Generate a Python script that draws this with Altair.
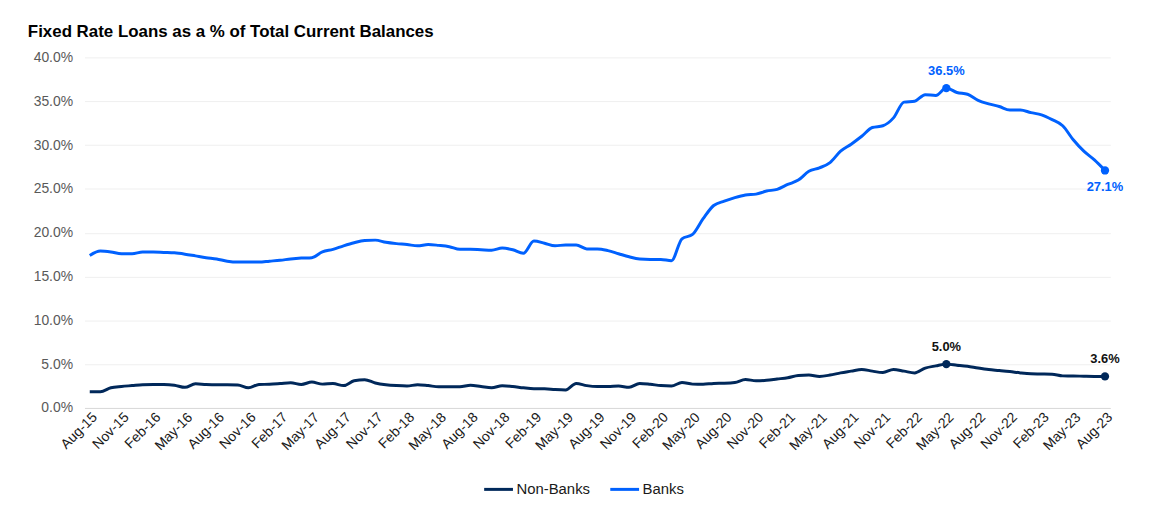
import altair as alt
import pandas as pd

# ---- data (percent of total current balances), monthly Aug-15 .. Aug-23 ----
tick_labels = ["Aug-15", "Nov-15", "Feb-16", "May-16", "Aug-16", "Nov-16", "Feb-17", "May-17",
               "Aug-17", "Nov-17", "Feb-18", "May-18", "Aug-18", "Nov-18", "Feb-19", "May-19",
               "Aug-19", "Nov-19", "Feb-20", "May-20", "Aug-20", "Nov-20", "Feb-21", "May-21",
               "Aug-21", "Nov-21", "Feb-22", "May-22", "Aug-22", "Nov-22", "Feb-23", "May-23",
               "Aug-23"]

banks = [17.4, 17.9, 17.8, 17.6, 17.6, 17.8, 17.8, 17.75, 17.7, 17.55,
         17.35, 17.15, 17.0, 16.75, 16.65, 16.65, 16.65, 16.75, 16.85, 17.0,
         17.1, 17.15, 17.8, 18.1, 18.5, 18.85, 19.1, 19.15, 18.9, 18.75,
         18.65, 18.5, 18.65, 18.55, 18.4, 18.1, 18.1, 18.05, 18.0, 18.25,
         18.05, 17.65, 19.05, 18.8, 18.5, 18.6, 18.6, 18.15, 18.15, 17.95,
         17.6, 17.25, 17.0, 16.95, 16.95, 16.8, 19.3, 19.8, 21.6, 23.1,
         23.6, 24.0, 24.3, 24.4, 24.75, 24.95, 25.5, 26.0, 27.0, 27.4,
         28.0, 29.3, 30.1, 31.0, 32.0, 32.2, 33.1, 34.9, 35.0, 35.75,
         35.65, 36.5, 36.0, 35.8, 35.1, 34.7, 34.4, 34.0, 34.0, 33.7,
         33.45, 32.9, 32.2, 30.6, 29.3, 28.3, 27.1]

non_banks = [1.85, 1.85, 2.3, 2.45, 2.55, 2.65, 2.68, 2.68, 2.6, 2.35,
             2.75, 2.68, 2.65, 2.65, 2.62, 2.3, 2.68, 2.7, 2.78, 2.88,
             2.68, 2.95, 2.72, 2.78, 2.55, 3.1, 3.22, 2.85, 2.65, 2.55,
             2.5, 2.65, 2.55, 2.42, 2.42, 2.42, 2.6, 2.45, 2.3, 2.53,
             2.45, 2.3, 2.2, 2.2, 2.1, 2.05, 2.8, 2.55, 2.45, 2.45,
             2.5, 2.35, 2.8, 2.7, 2.55, 2.5, 2.9, 2.72, 2.7, 2.8,
             2.82, 2.9, 3.25, 3.1, 3.15, 3.3, 3.45, 3.7, 3.75, 3.6,
             3.75, 4.0, 4.2, 4.4, 4.2, 4.05, 4.4, 4.2, 4.0, 4.55,
             4.8, 5.0, 4.88, 4.75, 4.55, 4.38, 4.27, 4.15, 4.0, 3.9,
             3.88, 3.85, 3.66, 3.65, 3.62, 3.6, 3.6]

series_names = ["Non-Banks", "Banks"]
series_colors = ["#00285a", "#0061fe"]
label_colors = ["#111111", "#0061fe"]
peak_idx = 81

# ---- tables ----
rows = []
for name, vals in zip(series_names, [non_banks, banks]):
    for i, v in enumerate(vals):
        rows.append({"idx": i, "value": v, "series": name})
df = pd.DataFrame(rows)

ann = []
for name, vals, lc in zip(series_names, [non_banks, banks], label_colors):
    last = len(vals) - 1
    for i in (peak_idx, last):
        below = (name == "Banks" and i == last)
        ann.append({"idx": i, "value": vals[i], "series": name,
                    "label": f"{vals[i]:.1f}%", "pos": "below" if below else "above",
                    "lc": lc})
ann_df = pd.DataFrame(ann)

n = len(banks)
label_array = "[" + ",".join(f"'{t}'" for t in tick_labels) + "]"

x_enc = alt.X("idx:Q",
              scale=alt.Scale(domain=[-0.5, n - 0.5], nice=False, zero=False),
              axis=alt.Axis(values=list(range(0, n, 3)), tickCount=100,
                            labelExpr=f"{label_array}[round(datum.value/3)]",
                            labelAngle=-45, labelFontSize=14, labelColor="#1a1a1a",
                            labelPadding=2, ticks=False, grid=False, domain=True,
                            domainColor="#d9d9d9", title=None, labelOverlap=False,
                            labelSeparation=0, labelBound=False, labelFlush=False))
y_enc = alt.Y("value:Q",
              scale=alt.Scale(domain=[0, 40], nice=False),
              axis=alt.Axis(values=list(range(0, 41, 5)),
                            labelExpr="format(datum.value, '.1f') + '%'",
                            labelFontSize=14, labelColor="#595959", labelPadding=12,
                            ticks=False, domain=False, gridColor="#efefef", title=None))
color_enc = alt.Color("series:N",
                      scale=alt.Scale(domain=series_names, range=series_colors),
                      legend=alt.Legend(title=None, orient="none", legendX=401, legendY=419,
                                        direction="horizontal", symbolType="stroke",
                                        symbolStrokeWidth=3, symbolSize=841,
                                        labelFontSize=15, labelColor="#1a1a1a",
                                        labelOffset=2, columnPadding=13))

lines = alt.Chart(df).mark_line(strokeWidth=3, interpolate="monotone").encode(
    x=x_enc, y=y_enc, color=color_enc, detail="series:N")

points = alt.Chart(ann_df).mark_circle(size=70, opacity=1).encode(
    x="idx:Q", y="value:Q",
    color=alt.Color("series:N", scale=alt.Scale(domain=series_names, range=series_colors), legend=None))

text_above = alt.Chart(ann_df).transform_filter("datum.pos == 'above'").mark_text(
    dy=-17, fontSize=13, fontWeight="bold", baseline="middle", align="center").encode(
    x="idx:Q", y="value:Q", text="label:N", color=alt.Color("lc:N", scale=None))

text_below = alt.Chart(ann_df).transform_filter("datum.pos == 'below'").mark_text(
    dy=17, fontSize=13, fontWeight="bold", baseline="middle", align="center").encode(
    x="idx:Q", y="value:Q", text="label:N", color=alt.Color("lc:N", scale=None))

chart = alt.layer(lines, points, text_above, text_below).properties(
    width=1033, height=353,
    autosize=alt.AutoSizeParams(type="none"),
    padding={"left": 77, "top": 48, "right": 39, "bottom": 100},
    title=alt.TitleParams("Fixed Rate Loans as a % of Total Current Balances",
                          anchor="start", frame="group", dx=-57, offset=10,
                          fontSize=17, fontWeight="bold", color="#000000"),
).configure(font="Liberation Sans").configure_view(stroke=None).configure_axisX(labelOverlap=False)

chart.save("out.html", embed_options={"renderer": "svg", "actions": False})
